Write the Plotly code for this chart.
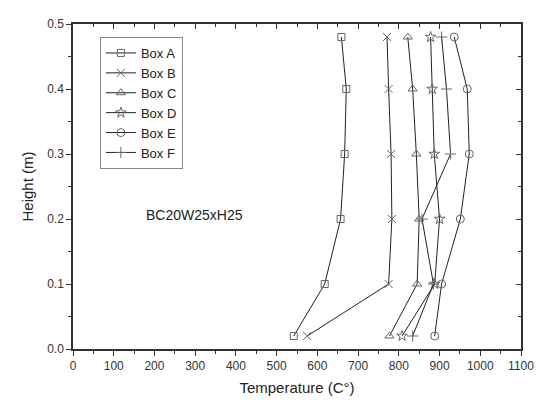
import plotly.graph_objects as go

heights = [0.02, 0.1, 0.2, 0.3, 0.4, 0.48]
box_a = [542, 618, 657, 667, 671, 659]
box_b = [575, 775, 783, 781, 775, 771]
box_c = [777, 845, 850, 843, 834, 822]
box_d = [808, 888, 900, 887, 882, 878]
box_e = [888, 905, 951, 973, 968, 936]
box_f = [834, 885, 857, 927, 917, 905]
names = ["Box A", "Box B", "Box C", "Box D", "Box E", "Box F"]
series = [box_a, box_b, box_c, box_d, box_e, box_f]
symbols = ["square-open", "x-thin-open", "triangle-up-open", "star-open", "circle-open", "cross-thin-open"]
sizes = [7, 8, 8, 8, 8, 8]
annotation_text = "BC20W25xH25"

fig = go.Figure()
for name, vals, sym, sz in zip(names, series, symbols, sizes):
    fig.add_trace(go.Scatter(
        x=vals, y=heights, name=name, mode="lines+markers",
        line=dict(color="#222222", width=1),
        marker=dict(symbol=sym, size=sz, color="#666666", line=dict(color="#666666", width=1)),
    ))

# overlay axes for inward ticks on top/right
fig.add_trace(go.Scatter(x=[0], y=[0], xaxis="x2", yaxis="y2", mode="markers",
                         marker=dict(opacity=0), showlegend=False, hoverinfo="skip"))

font = "Liberation Sans, Arial, sans-serif"
axcol = "#333333"
common = dict(showgrid=False, zeroline=False, showline=True, linecolor=axcol, linewidth=1.5,
              tickcolor=axcol, tickwidth=1.3, ticklen=5)

fig.update_layout(
    width=535, height=397,
    margin=dict(l=65, r=20, t=9, b=56),
    paper_bgcolor="white", plot_bgcolor="white",
    font=dict(family=font, size=12, color="#333333"),
    xaxis=dict(range=[0, 1100], dtick=100, ticks="outside",
               minor=dict(dtick=50, ticks="outside", ticklen=3, tickcolor=axcol, tickwidth=1),
               title=dict(text="Temperature (C°)", font=dict(size=15, color="#222222"), standoff=10), **common),
    yaxis=dict(range=[0, 0.5], dtick=0.1, ticks="outside", tickformat=".1f",
               minor=dict(dtick=0.05, ticks="outside", ticklen=3, tickcolor=axcol, tickwidth=1),
               title=dict(text="Height (m)", font=dict(size=15, color="#222222"), standoff=10), **common),
    xaxis2=dict(range=[0, 1100], dtick=100, ticks="inside", overlaying="x", side="top",
                showticklabels=False,
                minor=dict(dtick=50, ticks="inside", ticklen=3, tickcolor=axcol, tickwidth=1), **common),
    yaxis2=dict(range=[0, 0.5], dtick=0.1, ticks="inside", overlaying="y", side="right",
                showticklabels=False,
                minor=dict(dtick=0.05, ticks="inside", ticklen=3, tickcolor=axcol, tickwidth=1), **common),
    legend=dict(x=0.06, y=0.96, xanchor="left", yanchor="top",
                bordercolor="#888888", borderwidth=1, bgcolor="white",
                font=dict(size=13, color="#222222"), tracegroupgap=0, itemwidth=30),
    showlegend=True,
)
fig.add_annotation(x=298, y=0.206, xref="x", yref="y", text=annotation_text,
                   showarrow=False, font=dict(size=14, color="#222222"))

fig.write_html("out.html")
